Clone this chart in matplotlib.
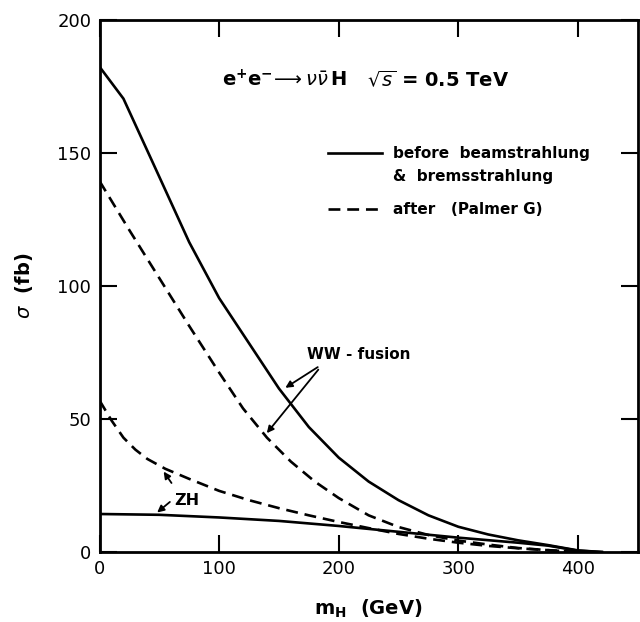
import matplotlib
matplotlib.use("Agg")
import matplotlib.pyplot as plt

# sigma(e+e- -> nu nubar H) at sqrt(s)=0.5 TeV
m_ww_before = [0, 20, 45, 75, 100, 125, 150, 175, 200, 225, 250, 275, 300, 325, 350, 375, 400, 420]
ww_before = [182.5, 170.5, 146, 116.5, 95.5, 78.5, 61.5, 47, 35.5, 26.5, 19.5, 13.8, 9.5, 6.6, 4.4, 2.6, 0.6, 0]

m_ww_after = [0, 25, 50, 75, 100, 120, 140, 160, 180, 200, 225, 250, 275, 300, 325, 350, 375, 400]
ww_after = [139.5, 121, 103, 85, 67.5, 54, 43, 34, 26.5, 20.3, 13.8, 9.4, 6.4, 4.3, 2.8, 1.5, 0.7, 0]

m_zh_after = [0, 10, 20, 30, 40, 55, 75, 100, 125, 150, 175, 200, 225, 250, 275, 300, 325, 350, 375, 400]
zh_after = [57, 49.5, 43, 38.5, 35, 31.3, 27.5, 23, 19.5, 16.5, 13.8, 11.3, 9, 6.8, 5, 3.5, 2.3, 1.4, 0.7, 0]

m_zh_before = [0, 50, 100, 150, 200, 250, 300, 350, 375, 400, 420]
zh_before = [14.3, 14, 13, 11.7, 9.8, 7.6, 5.4, 3.5, 2.4, 0.5, 0]

x_ticks = [0, 100, 200, 300, 400]
y_ticks = [0, 50, 100, 150, 200]

plt.rcParams['font.family'] = ['DejaVu Sans']
plt.rcParams['mathtext.fontset'] = 'dejavusans'

fig = plt.figure(figsize=(6.4, 6.22), dpi=100)
ax = fig.add_axes([0.1555, 0.1125, 0.841, 0.855])

lw = 1.9
dash = (4.5, 2.6)
ax.plot(m_ww_before, ww_before, color='black', lw=lw)
ax.plot(m_ww_after, ww_after, color='black', lw=lw, dashes=dash)
ax.plot(m_zh_after, zh_after, color='black', lw=lw, dashes=dash)
ax.plot(m_zh_before, zh_before, color='black', lw=lw)

ax.set_xlim(0, 450)
ax.set_ylim(0, 200)
ax.set_xticks(x_ticks)
ax.set_yticks(y_ticks)
ax.tick_params(direction='in', length=12, width=1.5, labelsize=13,
               top=True, right=True, pad=6)
for s in ax.spines.values():
    s.set_linewidth(2)

ax.set_xlabel(r'$\mathbf{m_H}$  (GeV)', fontsize=14, fontweight='bold', labelpad=14)
ax.set_ylabel(r'$\sigma$  (fb)', fontsize=14, fontweight='bold', labelpad=16)

# process and energy
ax.text(102, 177.5, r'$\mathbf{e^{+}e^{-}}\!\longrightarrow\nu\bar{\nu}\,\mathbf{H}$',
        fontsize=14, va='center', ha='left')
ax.text(224, 177.5, r'$\sqrt{s}$ = 0.5 TeV', fontsize=14, fontweight='bold',
        va='center', ha='left')

# hand-drawn legend
ax.plot([191, 236], [150, 150], color='black', lw=lw)
ax.text(245, 150, 'before  beamstrahlung', fontsize=11, fontweight='bold', va='center')
ax.text(245, 141.4, '&  bremsstrahlung', fontsize=11, fontweight='bold', va='center')
ax.plot([191, 236], [129, 129], color='black', lw=lw, dashes=dash)
ax.text(245, 129, 'after   (Palmer G)', fontsize=11, fontweight='bold', va='center')

# labels with arrows
arr = dict(arrowstyle='-|>', color='black', lw=1.3, mutation_scale=10)
ax.text(173.5, 74.4, 'WW - fusion', fontsize=11, fontweight='bold', va='center')
ax.annotate('', xy=(153.4, 61.2), xytext=(184.4, 70.1), arrowprops=arr)
ax.annotate('', xy=(138.4, 43.9), xytext=(184.4, 69.4), arrowprops=arr)
ax.text(73.2, 19.3, 'ZH', fontsize=11.5, fontweight='bold', va='center', ha='center')
ax.annotate('', xy=(52.3, 31.1), xytext=(61.5, 25.1), arrowprops=arr)
ax.annotate('', xy=(46.4, 14.2), xytext=(60.6, 19.5), arrowprops=arr)

plt.savefig('out.png', dpi=100)
